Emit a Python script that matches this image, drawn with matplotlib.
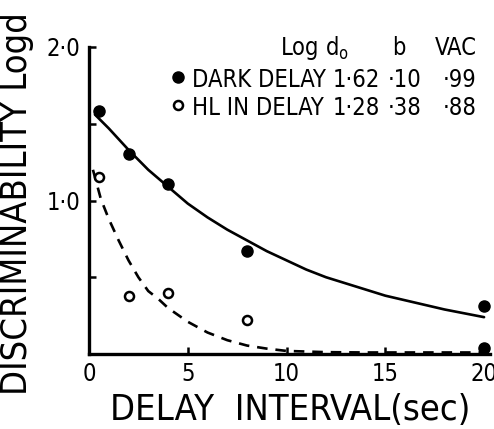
import numpy as np
import matplotlib
matplotlib.use("Agg")
import matplotlib.pyplot as plt

plt.rcParams['font.family'] = ['DejaVu Sans']
plt.rcParams['font.stretch'] = 'condensed'

# data points
dark_t = [0.5, 2, 4, 8, 20, 20]
dark_y = [1.58, 1.30, 1.11, 0.67, 0.31, 0.04]
hl_t = [0.5, 2, 4, 8]
hl_y = [1.15, 0.38, 0.40, 0.22]

# fitted curves, read at sample points
dark_fit_t = [0.3, 1, 2, 3, 4, 5, 6, 7, 8, 9, 10, 11, 12, 13, 14, 15, 16, 17, 18, 19, 20]
dark_fit_y = [1.56, 1.47, 1.33, 1.20, 1.09, 0.98, 0.89, 0.81, 0.74, 0.67, 0.61,
              0.55, 0.50, 0.46, 0.42, 0.38, 0.35, 0.32, 0.29, 0.265, 0.24]
hl_fit_t = [0.2, 0.6, 1.0, 1.5, 2, 2.5, 3, 3.5, 4, 5, 6, 7, 8, 9, 10, 12, 14, 16, 18, 20]
hl_fit_y = [1.20, 1.01, 0.88, 0.74, 0.61, 0.50, 0.41, 0.36, 0.30, 0.21, 0.14, 0.09,
            0.055, 0.035, 0.02, 0.012, 0.01, 0.01, 0.01, 0.01]

xticks = [0, 5, 10, 15, 20]
xticklabels = ['0', '5', '10', '15', '20']
yticks = [1.0, 2.0]
yticklabels = ['1·0', '2·0']

legend_rows = [('DARK DELAY', '1·62', '·10', '·99'),
               ('HL IN DELAY', '1·28', '·38', '·88')]

fig = plt.figure(figsize=(4.94, 4.29), dpi=100)
ax = fig.add_axes([89/494, 1-354/429, (490-89)/494, (354-47)/429])

ax.plot(dark_fit_t, dark_fit_y, color='black', lw=1.9, solid_capstyle='round')
ax.plot(hl_fit_t, hl_fit_y, color='black', lw=1.9, dashes=(4, 3))
ax.plot(dark_t, dark_y, 'o', color='black', ms=8, clip_on=False)
ax.plot(hl_t, hl_y, 'o', mfc='white', mec='black', mew=1.8, ms=6.5, clip_on=False)

ax.set_xlim(0, 20.3)
ax.set_ylim(0, 2.0)
ax.set_xticks(xticks)
ax.set_xticklabels(xticklabels)
ax.set_yticks(yticks)
ax.set_yticklabels(yticklabels)
ax.set_yticks([0.5, 1.5], minor=True)
for s in ['top', 'right']:
    ax.spines[s].set_visible(False)
for s in ['left', 'bottom']:
    ax.spines[s].set_linewidth(2.4)
ax.tick_params(direction='in', length=5, width=1.8, labelsize=17, pad=6)
ax.tick_params(which='minor', direction='in', length=5, width=1.8)

fig.text(0.0, 1-204/429, 'DISCRIMINABILITY Logd', rotation=90,
         fontsize=26, ha='left', va='center')
fig.text(110/494, 1-410/429, 'DELAY  INTERVAL(sec)', fontsize=26, ha='left', va='center')

# legend table
fs = 17
fig.text(280/494, 1-48/429, 'Log d$_\\mathregular{o}$', fontsize=fs, ha='left', va='center')
fig.text(392/494, 1-48/429, 'b', fontsize=fs, ha='left', va='center')
fig.text(435/494, 1-48/429, 'VAC', fontsize=fs, ha='left', va='center')
row_y = [80, 108]
ax.plot([0.222], [0.902], 'o', color='black', ms=8, transform=ax.transAxes, clip_on=False)
ax.plot([0.222], [0.811], 'o', mfc='white', mec='black', mew=1.8, ms=6.5,
        transform=ax.transAxes, clip_on=False)
for (name, d0, b, vac), ry in zip(legend_rows, row_y):
    yy = 1 - ry/429
    fig.text(192/494, yy, name, fontsize=fs, ha='left', va='center')
    fig.text(333/494, yy, d0, fontsize=fs, ha='left', va='center')
    fig.text(388/494, yy, b, fontsize=fs, ha='left', va='center')
    fig.text(443/494, yy, vac, fontsize=fs, ha='left', va='center')

fig.savefig('out.png', dpi=100)
